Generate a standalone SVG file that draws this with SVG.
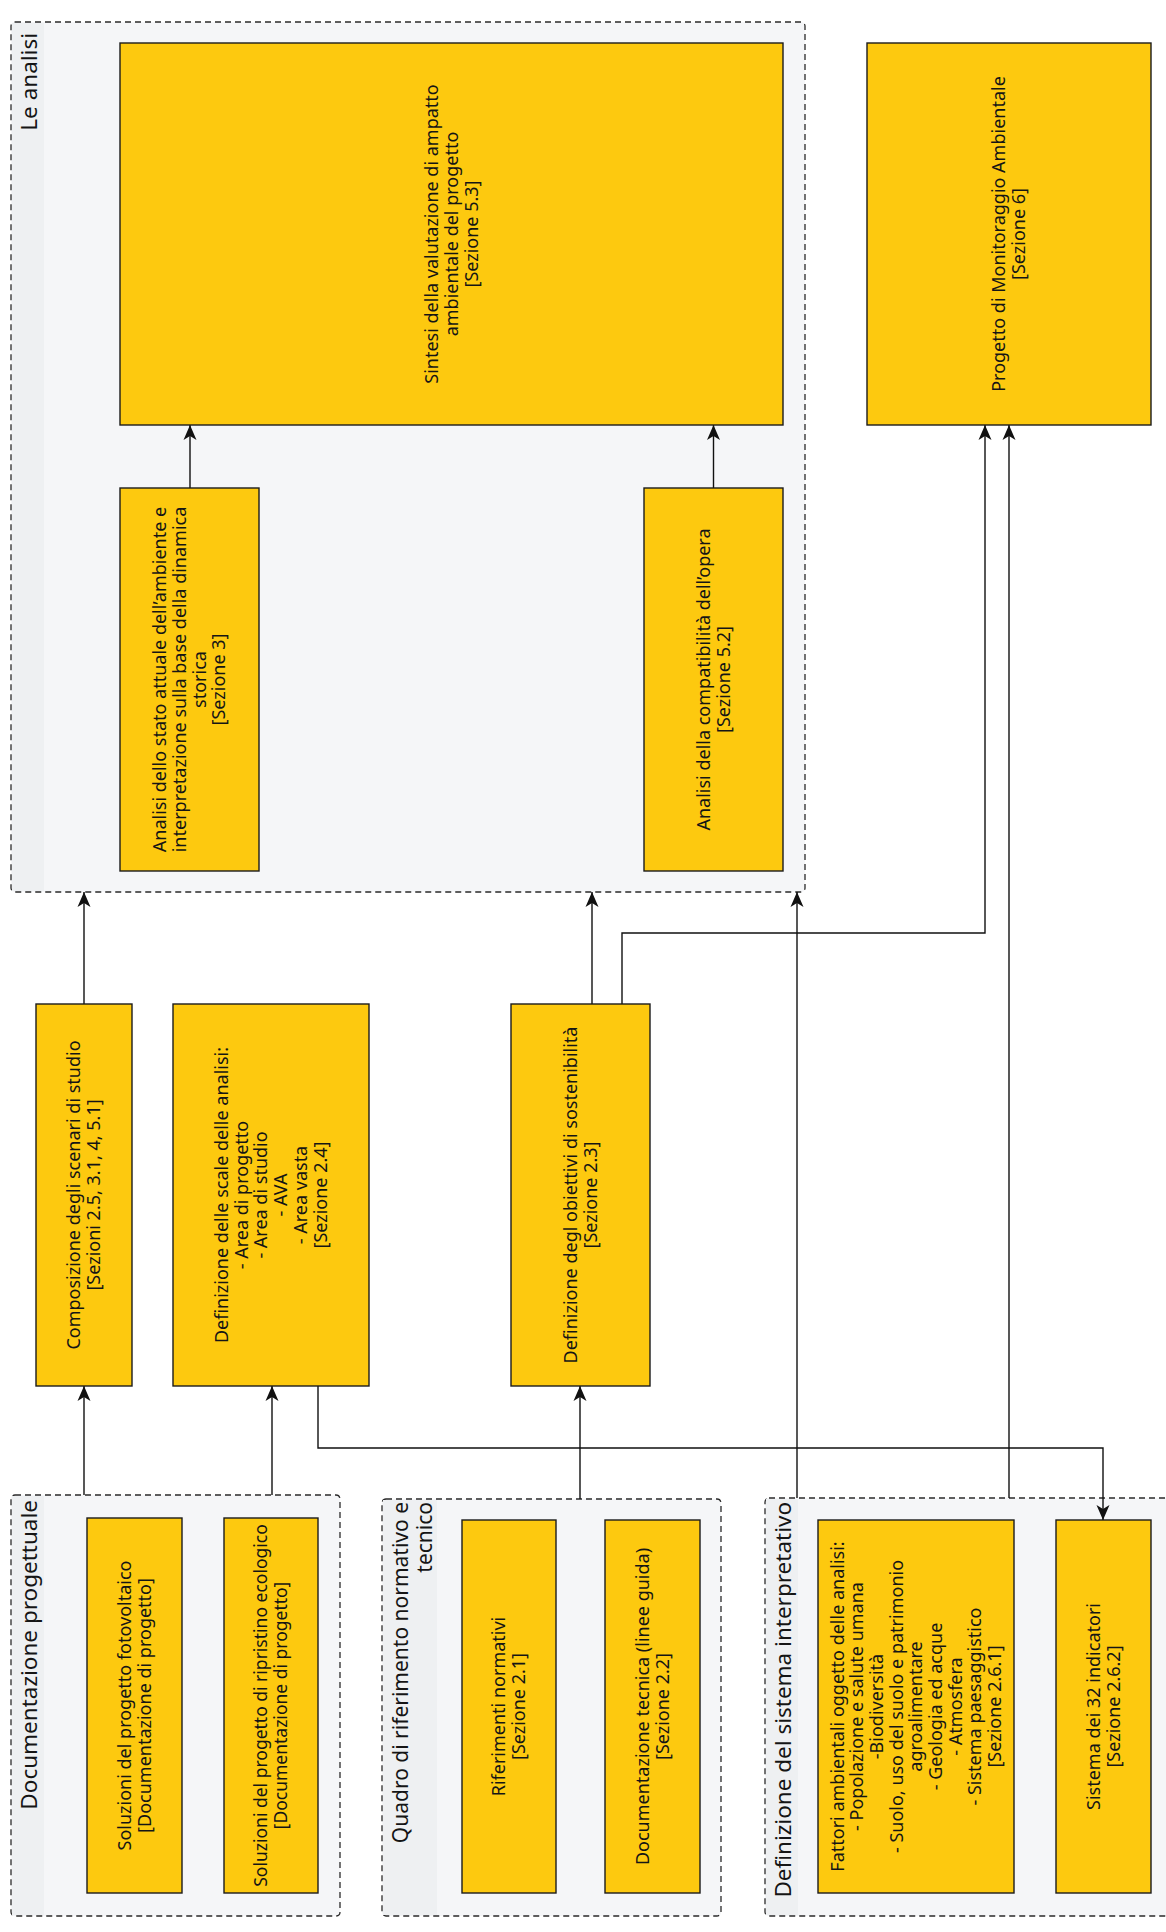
<svg xmlns="http://www.w3.org/2000/svg" width="1166" height="1932" viewBox="0 0 1166 1932">
<defs>
<marker id="arr" markerUnits="userSpaceOnUse" viewBox="0 -7 15 14" refX="15" refY="0" markerWidth="15" markerHeight="14" orient="auto">
<path d="M0,-6.5 L15,0 L0,6.5 L4,0 Z" fill="#111"/>
</marker>
<style>
.grp{fill:#f5f6f8;stroke:#2a2a2a;stroke-width:1.3;stroke-dasharray:6 4}
.strip{fill:#eef0f2}
.box{fill:#fdc90f;stroke:#1c1c1c;stroke-width:1.4}
.t{font-family:"Noto Sans","Open Sans",sans-serif;font-size:18px;fill:#151515;text-anchor:middle}
.gl{font-family:"Noto Sans","Open Sans",sans-serif;font-size:22.5px;fill:#151515;text-anchor:end}
.c{fill:none;stroke:#111;stroke-width:1.4;marker-end:url(#arr)}
</style>
</defs>
<rect width="1166" height="1932" fill="#ffffff"/>

<g id="grp-analisi">
<rect class="grp" x="11" y="22" width="794" height="870" rx="4"/>
<rect class="strip" x="12" y="23" width="32" height="868"/>
<text class="gl" transform="translate(37,33) rotate(-90)">Le analisi</text>
</g>
<g id="grp-documentazione">
<rect class="grp" x="11" y="1495" width="329" height="421" rx="4"/>
<rect class="strip" x="12" y="1496" width="32" height="419"/>
<text class="gl" transform="translate(37,1500) rotate(-90)">Documentazione progettuale</text>
</g>
<g id="grp-quadro">
<rect class="grp" x="382" y="1499" width="339" height="417" rx="4"/>
<rect class="strip" x="383" y="1500" width="54" height="415"/>
<text class="gl" transform="translate(408,1502) rotate(-90)" style="font-size:21px"><tspan x="0" y="0">Quadro di riferimento normativo e</tspan><tspan x="0" y="23.5">tecnico</tspan></text>
</g>
<g id="grp-sistema">
<rect class="grp" x="765" y="1498" width="410" height="418" rx="4"/>
<rect class="strip" x="766" y="1499" width="32" height="416"/>
<text class="gl" transform="translate(791,1502) rotate(-90)">Definizione del sistema interpretativo</text>
</g>

<g id="connectors">
<path class="c" d="M190,488 V425"/>
<path class="c" d="M713.5,488 V425"/>
<path class="c" d="M84,1004 V892"/>
<path class="c" d="M592,1004 V892"/>
<path class="c" d="M622,1004 V933 H985 V425"/>
<path class="c" d="M797,1498 V892"/>
<path class="c" d="M1009,1498 V425"/>
<path class="c" d="M84,1495 V1386"/>
<path class="c" d="M272,1495 V1386"/>
<path class="c" d="M580,1499 V1386"/>
<path class="c" d="M318,1386 V1448 H1103 V1520"/>
</g>

<g id="sintesi">
<rect class="box" x="120" y="43" width="663" height="382"/>
<text class="t" transform="translate(451.5,234) rotate(-90)"><tspan x="0" y="-13.4">Sintesi della valutazione di ampatto</tspan><tspan x="0" y="6.3">ambientale del progetto</tspan><tspan x="0" y="26">[Sezione 5.3]</tspan></text>
</g>
<g id="analisi-stato">
<rect class="box" x="120" y="488" width="139" height="383"/>
<text class="t" transform="translate(189.5,679.5) rotate(-90)"><tspan x="0" y="-23.25">Analisi dello stato attuale dell’ambiente e</tspan><tspan x="0" y="-3.55">interpretazione sulla base della dinamica</tspan><tspan x="0" y="16.15">storica</tspan><tspan x="0" y="35.85">[Sezione 3]</tspan></text>
</g>
<g id="compatibilita">
<rect class="box" x="644" y="488" width="139" height="383"/>
<text class="t" transform="translate(713.5,679.5) rotate(-90)"><tspan x="0" y="-3.55">Analisi della compatibilità dell’opera</tspan><tspan x="0" y="16.15">[Sezione 5.2]</tspan></text>
</g>
<g id="monitoraggio">
<rect class="box" x="867" y="43" width="284" height="382"/>
<text class="t" transform="translate(1009,234) rotate(-90)"><tspan x="0" y="-3.55">Progetto di Monitoraggio Ambientale</tspan><tspan x="0" y="16.15">[Sezione 6]</tspan></text>
</g>
<g id="composizione">
<rect class="box" x="36" y="1004" width="96" height="382"/>
<text class="t" transform="translate(84,1195) rotate(-90)"><tspan x="0" y="-3.55">Composizione degli scenari di studio</tspan><tspan x="0" y="16.15">[Sezioni 2.5, 3.1, 4, 5.1]</tspan></text>
</g>
<g id="scale">
<rect class="box" x="173" y="1004" width="196" height="382"/>
<text class="t" transform="translate(271,1195) rotate(-90)"><tspan x="0" y="-42.95">Definizione delle scale delle analisi:</tspan><tspan x="0" y="-23.25">- Area di progetto</tspan><tspan x="0" y="-3.55">- Area di studio</tspan><tspan x="0" y="16.15">- AVA</tspan><tspan x="0" y="35.85">- Area vasta</tspan><tspan x="0" y="55.55">[Sezione 2.4]</tspan></text>
</g>
<g id="obiettivi">
<rect class="box" x="511" y="1004" width="139" height="382"/>
<text class="t" transform="translate(580.5,1195) rotate(-90)"><tspan x="0" y="-3.55">Definizione degl obiettivi di sostenibilità</tspan><tspan x="0" y="16.15">[Sezione 2.3]</tspan></text>
</g>
<g id="fotovoltaico">
<rect class="box" x="87" y="1518" width="95" height="375"/>
<text class="t" transform="translate(134.5,1705.5) rotate(-90)"><tspan x="0" y="-3.55">Soluzioni del progetto fotovoltaico</tspan><tspan x="0" y="16.15">[Documentazione di progetto]</tspan></text>
</g>
<g id="ripristino">
<rect class="box" x="224" y="1518" width="94" height="375"/>
<text class="t" transform="translate(271,1705.5) rotate(-90)" style="font-size:17.5px"><tspan x="0" y="-3.55">Soluzioni del progetto di ripristino ecologico</tspan><tspan x="0" y="16.15">[Documentazione di progetto]</tspan></text>
</g>
<g id="riferimenti">
<rect class="box" x="462" y="1520" width="94" height="373"/>
<text class="t" transform="translate(509,1706.5) rotate(-90)"><tspan x="0" y="-3.55">Riferimenti normativi</tspan><tspan x="0" y="16.15">[Sezione 2.1]</tspan></text>
</g>
<g id="doc-tecnica">
<rect class="box" x="605" y="1520" width="95" height="373"/>
<text class="t" transform="translate(652.5,1706.5) rotate(-90)"><tspan x="0" y="-3.55">Documentazione tecnica (linee guida)</tspan><tspan x="0" y="16.15">[Sezione 2.2]</tspan></text>
</g>
<g id="fattori">
<rect class="box" x="818" y="1520" width="196" height="373"/>
<text class="t" transform="translate(916,1706.5) rotate(-90)"><tspan x="0" y="-72.5">Fattori ambientali oggetto delle analisi:</tspan><tspan x="0" y="-52.8">- Popolazione e salute umana</tspan><tspan x="0" y="-33.1">-Biodiversità</tspan><tspan x="0" y="-13.4">- Suolo, uso del suolo e patrimonio</tspan><tspan x="0" y="6.3">agroalimentare</tspan><tspan x="0" y="26">- Geologia ed acque</tspan><tspan x="0" y="45.7">- Atmosfera</tspan><tspan x="0" y="65.4">- Sistema paesaggistico</tspan><tspan x="0" y="85.1">[Sezione 2.6.1]</tspan></text>
</g>
<g id="indicatori">
<rect class="box" x="1056" y="1520" width="95" height="373"/>
<text class="t" transform="translate(1103.5,1706.5) rotate(-90)"><tspan x="0" y="-3.55">Sistema dei 32 indicatori</tspan><tspan x="0" y="16.15">[Sezione 2.6.2]</tspan></text>
</g>
</svg>
